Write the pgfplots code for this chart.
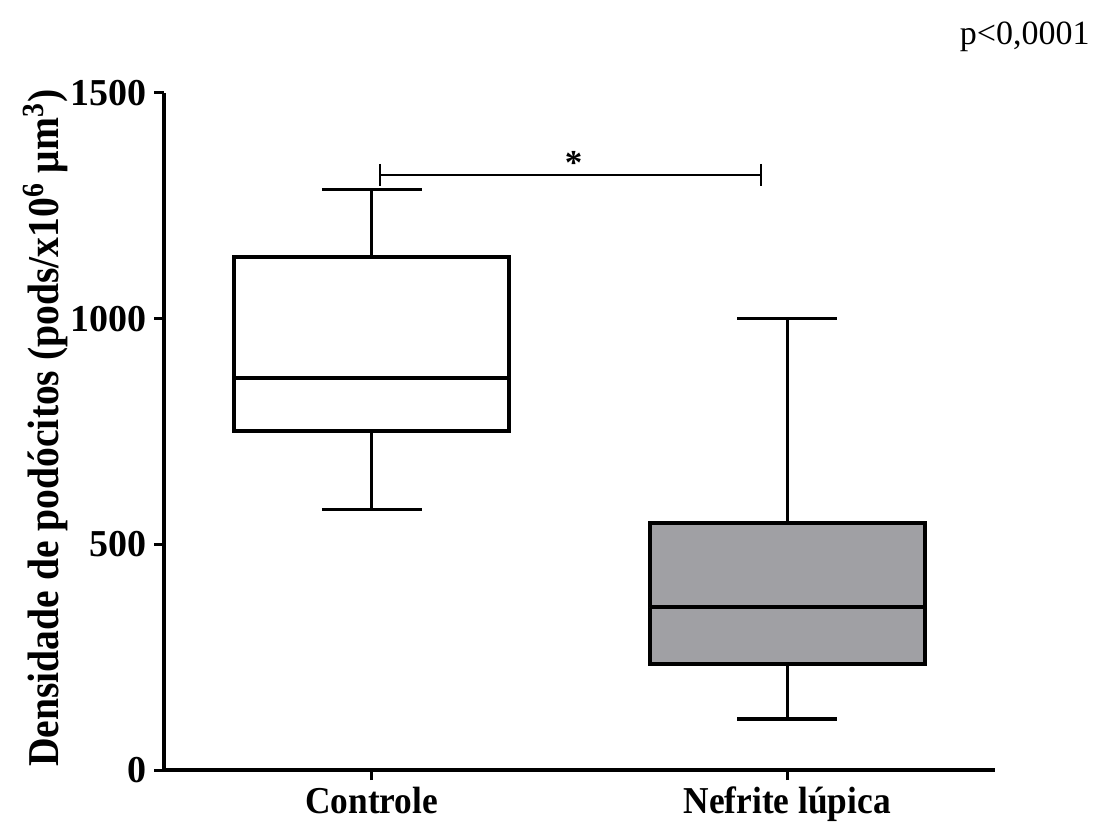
\documentclass[border=0pt]{standalone}
\usepackage{fontspec}
\setmainfont{Liberation Serif}
\newfontfamily\narrowfont{Liberation Serif}[FakeStretch=0.93]
\newfontfamily\labelfont{Liberation Serif}[FakeStretch=0.90]
\usepackage{pgfplots}
\pgfplotsset{compat=1.18}
\usepgfplotslibrary{statistics}

\definecolor{boxgray}{RGB}{160,160,164}

\begin{document}
\begin{tikzpicture}
\path[use as bounding box] (0,0) rectangle (553pt,412.5pt);
\begin{axis}[
  at={(82pt,27.5pt)}, anchor=south west,
  scale only axis,
  width=415.5pt, height=338.5pt,
  xmin=0.5, xmax=2.5,
  ymin=0, ymax=1500,
  axis lines*=left,
  axis line style={line width=2pt},
  tick align=outside,
  major tick length=5pt,
  tick style={line width=1.5pt, black},
  xtick={1,2},
  xticklabels={Controle, Nefrite lúpica},
  ytick={0,500,1000,1500},
  yticklabels={0,500,1000,1500},
  xticklabel style={font=\narrowfont\bfseries\fontsize{19}{22}\selectfont},
  yticklabel style={font=\bfseries\fontsize{19}{22}\selectfont},
  ylabel={Densidade de podócitos (pods/x10\textsuperscript{6} μm\textsuperscript{3})},
  ylabel style={font=\labelfont\bfseries\fontsize{22}{24}\selectfont, at={(axis description cs:-0.143,0.505)}, anchor=center},
  boxplot/draw direction=y,
  boxplot/every whisker/.style={line width=1.6pt},
  boxplot/every median/.style={line width=2pt},
  clip=false,
]
% Controle
\addplot[draw=black, fill=white, line width=2pt,
  boxplot prepared={lower whisker=578, lower quartile=751, median=869,
    upper quartile=1137, upper whisker=1287,
    draw position=1, box extend=0.663, whisker extend=0.24}]
  coordinates {};
% Nefrite lupica
\addplot[draw=black, fill=boxgray, line width=2pt,
  boxplot prepared={lower whisker=113, lower quartile=235, median=361,
    upper quartile=547, upper whisker=1000,
    draw position=2, box extend=0.663, whisker extend=0.24}]
  coordinates {};
% significance bracket
\draw[line width=1pt] (axis cs:1.019,1318) -- (axis cs:1.937,1318);
\draw[line width=1pt] (axis cs:1.019,1343) -- (axis cs:1.019,1295);
\draw[line width=1pt] (axis cs:1.937,1343) -- (axis cs:1.937,1295);
\node[font=\bfseries\fontsize{17.5}{20}\selectfont, anchor=south, inner sep=0pt] at (axis cs:1.486,1318) {*};
\end{axis}
\node[font=\fontsize{17}{20}\selectfont, anchor=east, inner sep=0pt] at (545pt,394pt) {p<0,0001};
\end{tikzpicture}
\end{document}
